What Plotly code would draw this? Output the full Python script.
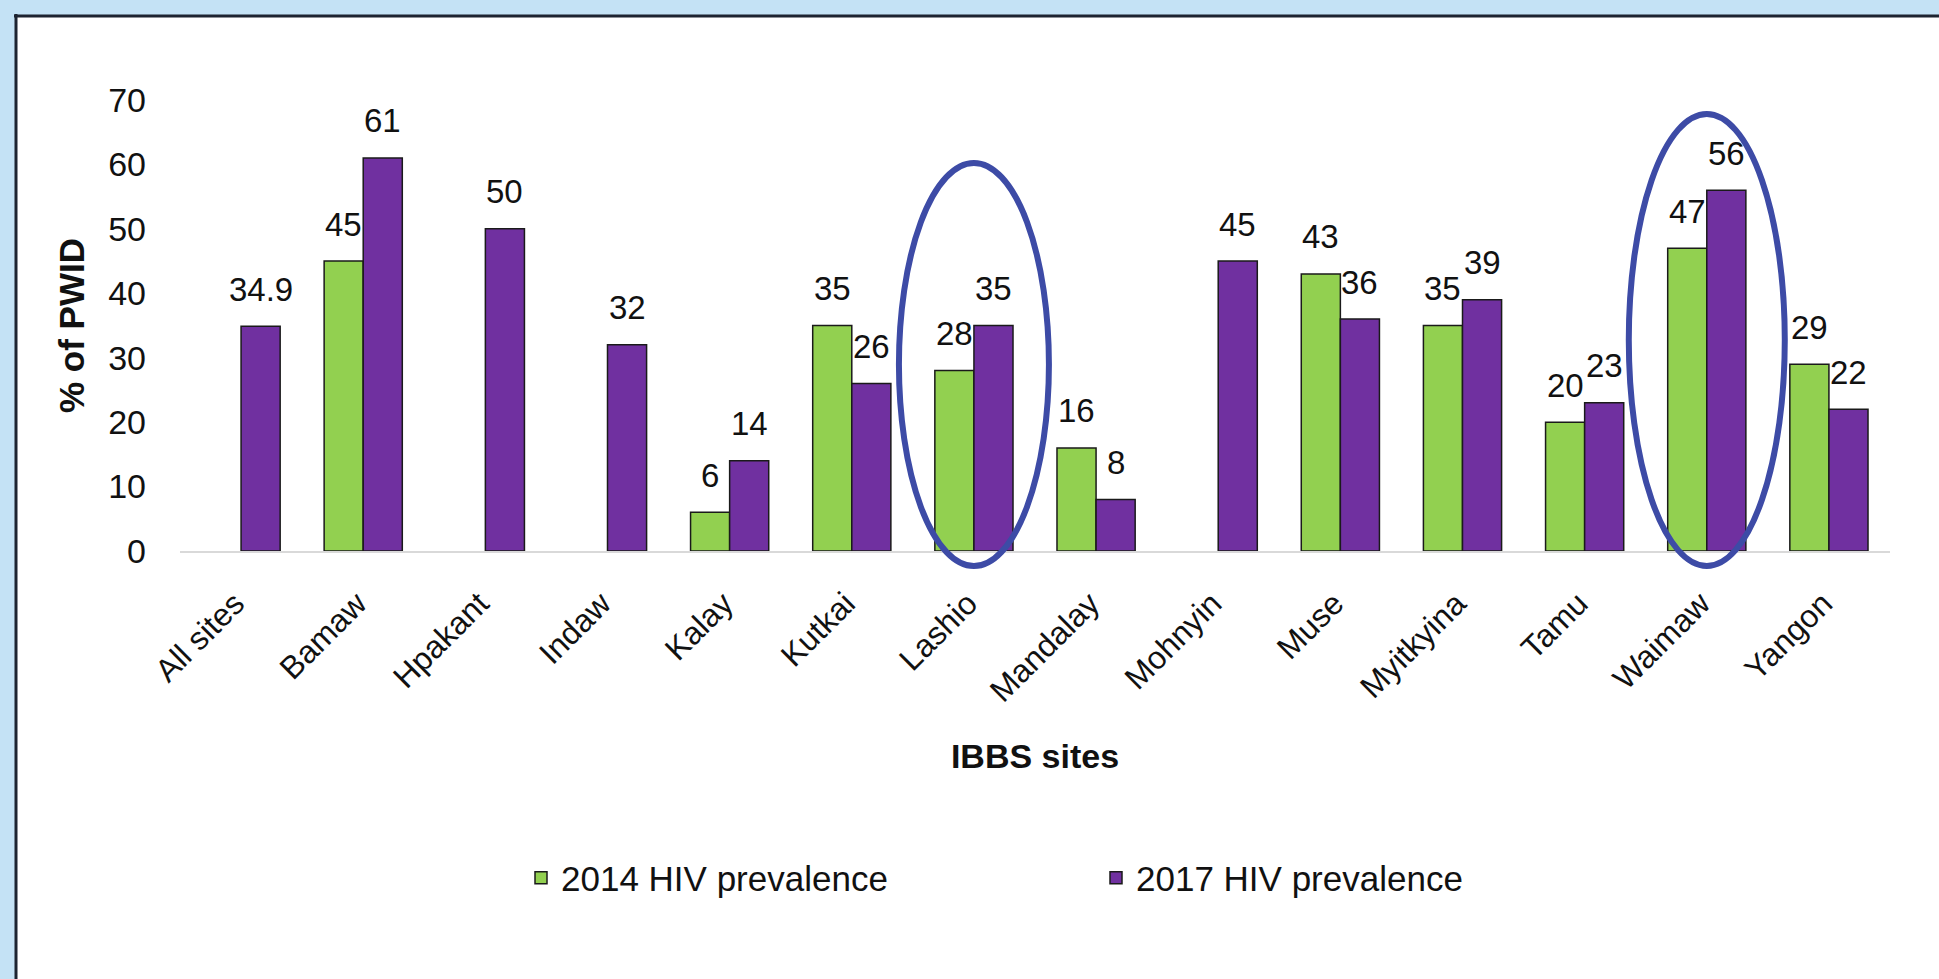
import plotly.graph_objects as go

# ---------------- data ----------------
categories = ["All sites", "Bamaw", "Hpakant", "Indaw", "Kalay", "Kutkai", "Lashio",
              "Mandalay", "Mohnyin", "Muse", "Myitkyina", "Tamu", "Waimaw", "Yangon"]
prev_2014 = [None, 45, None, None, 6, 35, 28, 16, None, 43, 35, 20, 47, 29]
prev_2017 = [34.9, 61, 50, 32, 14, 26, 35, 8, 45, 36, 39, 23, 56, 22]
label_2014 = ["", "45", "", "", "6", "35", "28", "16", "", "43", "35", "20", "47", "29"]
label_2017 = ["34.9", "61", "50", "32", "14", "26", "35", "8", "45", "36", "39", "23", "56", "22"]
series_names = ["2014 HIV prevalence", "2017 HIV prevalence"]
y_ticks = [0, 10, 20, 30, 40, 50, 60, 70]
highlighted = ["Lashio", "Waimaw"]

# ---------------- style ----------------
W, H = 1939, 979
ML, MR, MT, MB = 180, 49, 100, 428
PW, PH = W - ML - MR, H - MT - MB
GREEN, PURPLE = "#92D050", "#7030A0"
FONT = "Arial, Liberation Sans, sans-serif"
BARGAP = 0.36
bar_px = PW / len(categories) * (1 - BARGAP) / 2
FRAME_BLUE = "#c4e2f5"
BORDER = "#1c2330"


def px_x(X):
    return (X - ML) / PW


def px_y(Y):
    return (H - MB - Y) / PH


fig = go.Figure()
fig.add_trace(go.Bar(x=categories, y=prev_2014, name=series_names[0],
                     marker=dict(color=GREEN, line=dict(color="#1a1a1a", width=1.5))))
fig.add_trace(go.Bar(x=categories, y=prev_2017, name=series_names[1],
                     marker=dict(color=PURPLE, line=dict(color="#1a1a1a", width=1.5))))

annotations = []
for vals, labs, sh in ((prev_2014, label_2014, -bar_px / 2), (prev_2017, label_2017, bar_px / 2)):
    for c, v, t in zip(categories, vals, labs):
        if v is None:
            continue
        annotations.append(dict(x=c, y=v, xref="x", yref="y", text=t, showarrow=False,
                                xshift=sh, yshift=37, yanchor="middle",
                                font=dict(family=FONT, size=33, color="#111")))

shapes = [
    # light-blue frame (top and left strips) with dark panel edge
    dict(type="rect", xref="paper", yref="paper", layer="below",
         x0=px_x(-20), x1=px_x(W + 60), y0=px_y(15), y1=px_y(-20),
         fillcolor=FRAME_BLUE, line=dict(width=0)),
    dict(type="rect", xref="paper", yref="paper", layer="below",
         x0=px_x(-20), x1=px_x(15), y0=px_y(H + 60), y1=px_y(-20),
         fillcolor=FRAME_BLUE, line=dict(width=0)),
    dict(type="line", xref="paper", yref="paper", layer="below",
         x0=px_x(14), x1=px_x(W + 60), y0=px_y(16), y1=px_y(16),
         line=dict(color=BORDER, width=3)),
    dict(type="line", xref="paper", yref="paper", layer="below",
         x0=px_x(16), x1=px_x(16), y0=px_y(14), y1=px_y(H + 60),
         line=dict(color=BORDER, width=3)),
]
ell_tops = {"Lashio": 163, "Waimaw": 114}
ell_half = {"Lashio": 75, "Waimaw": 78}
n = len(categories)
for name in highlighted:
    i = categories.index(name)
    cx = (i + 0.5) / n
    hw = ell_half[name] / PW
    shapes.append(dict(type="circle", xref="paper", yref="paper", layer="above",
                       x0=cx - hw, x1=cx + hw, y0=px_y(566), y1=px_y(ell_tops[name]),
                       line=dict(color="#3d4ba6", width=6), fillcolor="rgba(0,0,0,0)"))

fig.update_layout(
    width=W, height=H,
    margin=dict(l=ML, r=MR, t=MT, b=MB, autoexpand=False),
    paper_bgcolor="white", plot_bgcolor="rgba(0,0,0,0)",
    barmode="group", bargap=BARGAP, bargroupgap=0,
    font=dict(family=FONT, size=33, color="#111"),
    showlegend=True,
    legend=dict(orientation="h", x=px_x(521), xanchor="left", y=px_y(878), yanchor="middle",
                font=dict(family=FONT, size=35, color="#111"), entrywidth=530,
                bgcolor="rgba(0,0,0,0)"),
    shapes=shapes,
    annotations=annotations,
)
fig.update_xaxes(type="category", showline=True, linecolor="#d9d9d9", linewidth=2,
                 tickangle=-45, ticks="", showgrid=False,
                 ticklabelstandoff=19, ticklabelshift=-6,
                 tickfont=dict(family=FONT, size=32, color="#111"),
                 title=dict(text="<b>IBBS sites</b>", font=dict(family=FONT, size=34, color="#111"), standoff=36),
                 automargin=False)
fig.update_yaxes(range=[0, 70], tickvals=y_ticks, showgrid=False, zeroline=False, showline=False,
                 ticks="", ticklabelstandoff=33,
                 tickfont=dict(family=FONT, size=34, color="#111"),
                 title=dict(text="<b>% of PWID</b>", font=dict(family=FONT, size=35, color="#111"), standoff=12),
                 automargin=False)

fig.write_html("out.html", config={"displayModeBar": False},
               post_script="document.body.style.margin='0';document.body.style.overflow='hidden';")
